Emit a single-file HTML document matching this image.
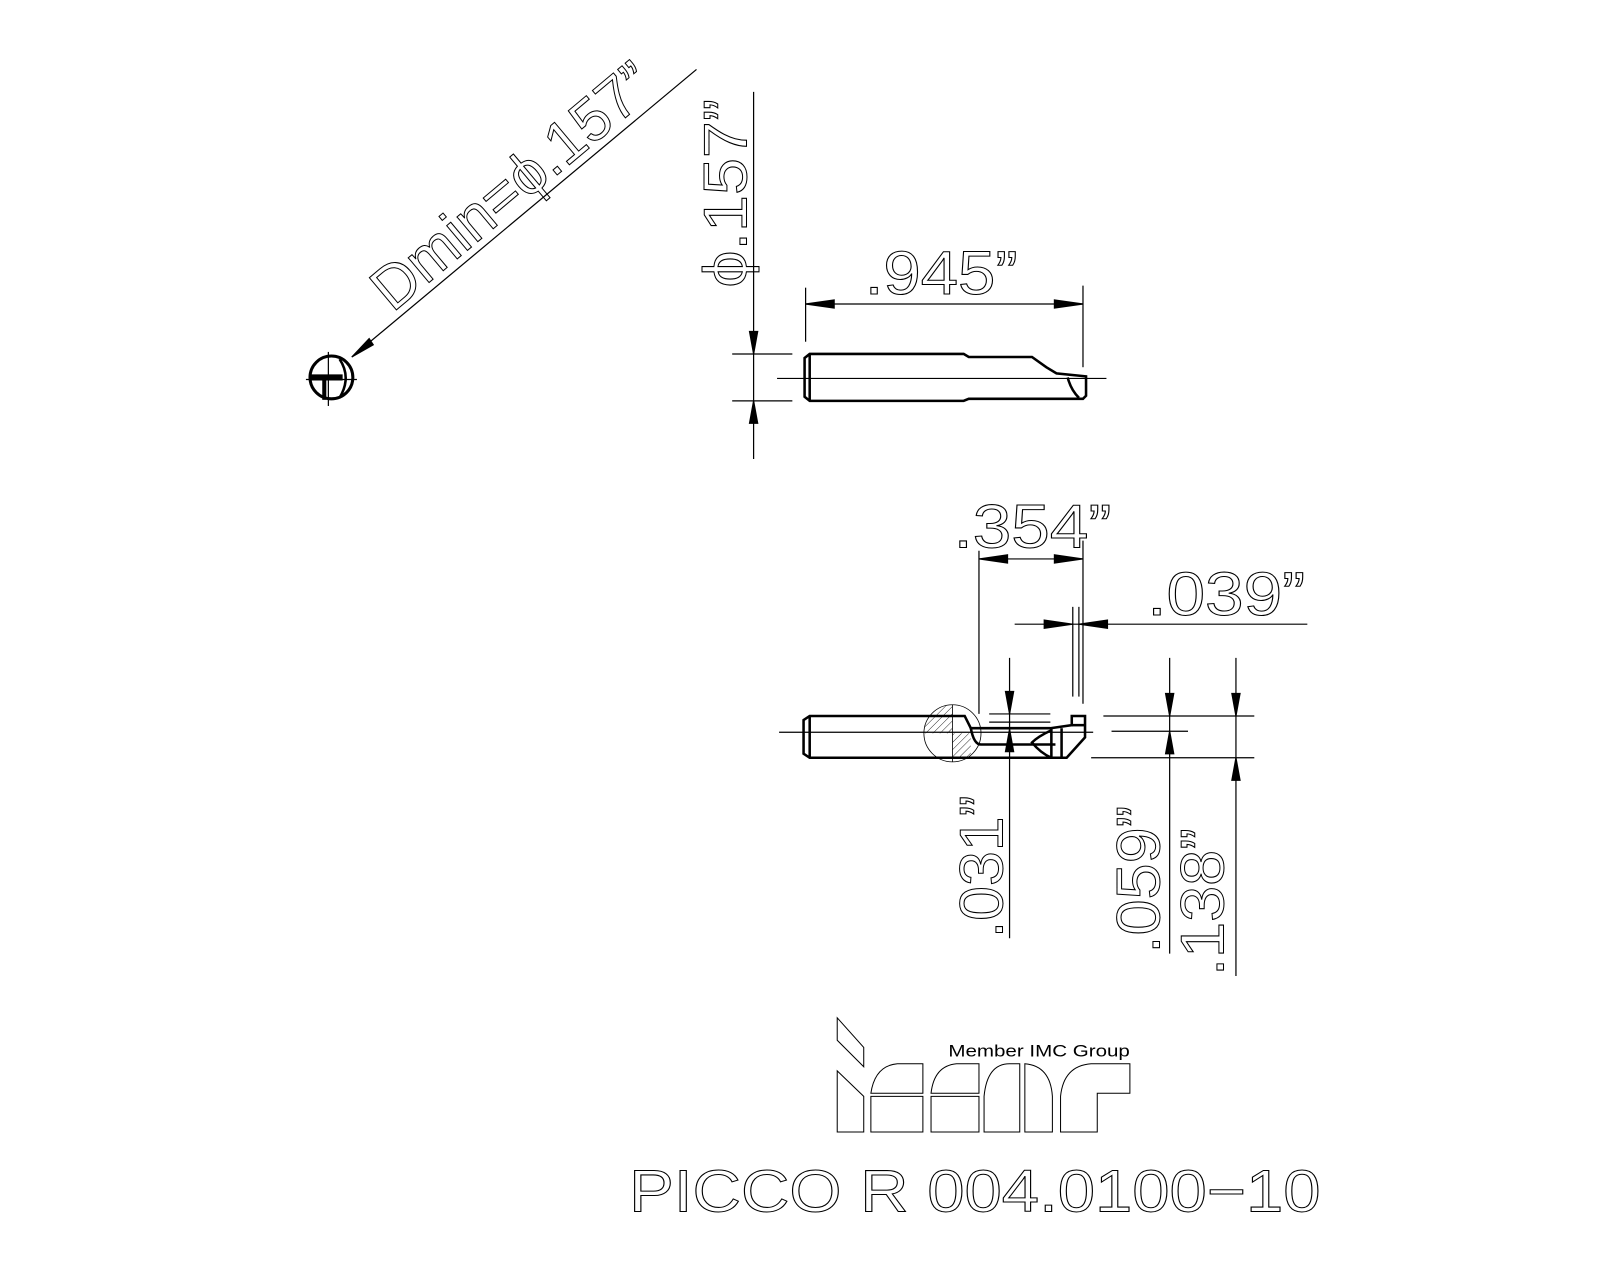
<!DOCTYPE html>
<html><head><meta charset="utf-8"><style>
html,body{margin:0;padding:0;background:#fff;}
svg{display:block;}
text{font-family:"Liberation Sans",sans-serif;fill:none;stroke:#000;stroke-width:1;}
</style></head><body>
<svg width="1600" height="1280" viewBox="0 0 1569 1255" xmlns="http://www.w3.org/2000/svg">
<defs>
<pattern id="h" width="5" height="5" patternUnits="userSpaceOnUse" patternTransform="rotate(45)"><line x1="0" y1="0" x2="0" y2="5" stroke="#000" stroke-width="0.8"/></pattern>
<clipPath id="cq"><circle cx="934" cy="719" r="28"/></clipPath>
</defs>
<g stroke="#000" fill="none" stroke-width="1.2">
<!-- Dmin -->
<line x1="683" y1="68" x2="345" y2="350"/>
<polygon points="345,350 362,332 366,338" fill="#000"/>
<circle cx="325" cy="370" r="21" stroke-width="3"/>
<line x1="300" y1="372" x2="350" y2="372"/>
<line x1="322" y1="345" x2="322" y2="398"/>
<path d="M305,370 H336" stroke-width="6"/>
<path d="M318,372 V392" stroke-width="4"/>
<path d="M333,352 Q345,370 333,390" stroke-width="2.5"/>
</g>
<text transform="translate(385,307) rotate(-40)" font-size="60" textLength="340" lengthAdjust="spacingAndGlyphs">Dmin=ϕ.157”</text>

<g stroke="#000" fill="none" stroke-width="1.2">
<!-- top view dims -->
<line x1="739" y1="90" x2="739" y2="450"/>
<line x1="718" y1="347" x2="777" y2="347"/>
<line x1="718" y1="393" x2="777" y2="393"/>
<polygon points="739,347 735,325 743,325" fill="#000"/>
<polygon points="739,393 735,415 743,415" fill="#000"/>
<line x1="790" y1="282" x2="790" y2="335"/>
<line x1="1062" y1="280" x2="1062" y2="360"/>
<line x1="790" y1="298" x2="1062" y2="298"/>
<polygon points="790,298 818,294 818,302" fill="#000"/>
<polygon points="1062,298 1034,294 1034,302" fill="#000"/>
<line x1="762" y1="371" x2="1085" y2="371"/>
<!-- top tool -->
<g stroke-width="2.5">
<path d="M794,347 H945 L950,350 H1012 L1026,360 L1036,366 L1065,369 V388 L1062,391 H950 L945,393 H794 L789,389 V351 Z"/>
<line x1="794" y1="347" x2="794" y2="393"/>
<path d="M1047,370 Q1050,382 1058,390"/>
</g>
</g>
<text transform="translate(732,282) rotate(-90)" font-size="60" textLength="185" lengthAdjust="spacingAndGlyphs">ϕ.157”</text>
<text x="848" y="288" font-size="60" textLength="150" lengthAdjust="spacingAndGlyphs">.945”</text>

<g stroke="#000" fill="none" stroke-width="1.2">
<!-- bottom dims -->
<line x1="960" y1="540" x2="960" y2="700"/>
<line x1="1062" y1="530" x2="1062" y2="690"/>
<line x1="960" y1="548" x2="1062" y2="548"/>
<polygon points="960,548 988,544 988,552" fill="#000"/>
<polygon points="1062,548 1034,544 1034,552" fill="#000"/>
<line x1="1052" y1="595" x2="1052" y2="683"/>
<line x1="1058" y1="595" x2="1058" y2="683"/>
<line x1="995" y1="612" x2="1282" y2="612"/>
<polygon points="1052,612 1024,608 1024,616" fill="#000"/>
<polygon points="1058,612 1086,608 1086,616" fill="#000"/>
<line x1="990" y1="645" x2="990" y2="920"/>
<polygon points="990,700 986,678 994,678" fill="#000"/>
<polygon points="990,715 986,737 994,737" fill="#000"/>
<line x1="970" y1="700" x2="1030" y2="700"/>
<line x1="970" y1="708" x2="1030" y2="708"/>
<line x1="1147" y1="645" x2="1147" y2="935"/>
<polygon points="1147,702 1143,680 1151,680" fill="#000"/>
<polygon points="1147,717 1143,739 1151,739" fill="#000"/>
<line x1="1212" y1="645" x2="1212" y2="957"/>
<polygon points="1212,702 1208,680 1216,680" fill="#000"/>
<polygon points="1212,743 1208,765 1216,765" fill="#000"/>
<line x1="1082" y1="702" x2="1230" y2="702"/>
<line x1="1090" y1="717" x2="1165" y2="717"/>
<line x1="1070" y1="743" x2="1230" y2="743"/>
<line x1="764" y1="718" x2="1072" y2="718"/>
<!-- bottom tool -->
<g clip-path="url(#cq)">
<rect x="906" y="691" width="28" height="28" fill="url(#h)" stroke="none"/>
<rect x="934" y="719" width="18" height="24" fill="url(#h)" stroke="none"/>
</g>
<circle cx="934" cy="719" r="28" stroke-width="0.8"/>
<line x1="934" y1="691" x2="934" y2="747" stroke-width="0.8"/>
<g stroke-width="2.5">
<path d="M794,702 H946 L952,714 H1030 L1051,711 V702 H1064 V723 L1046,743 H794 L788,739 V706 Z"/>
<path d="M952,714 Q955,730 962,730 H1035"/>
<line x1="794" y1="702" x2="794" y2="743"/>
<line x1="1031" y1="714" x2="1031" y2="743"/>
<line x1="1041" y1="714" x2="1041" y2="743"/>
<path d="M1031,716 Q1018,722 1012,728 Q1020,738 1031,743"/>
<line x1="1051" y1="711" x2="1064" y2="711"/>
</g>
</g>
<text x="935" y="537" font-size="60" textLength="155" lengthAdjust="spacingAndGlyphs">.354”</text>
<text x="1125" y="603" font-size="60" textLength="155" lengthAdjust="spacingAndGlyphs">.039”</text>
<text transform="translate(983,920) rotate(-90)" font-size="60" textLength="140" lengthAdjust="spacingAndGlyphs">.031”</text>
<text transform="translate(1137,935) rotate(-90)" font-size="60" textLength="145" lengthAdjust="spacingAndGlyphs">.059”</text>
<text transform="translate(1200,957) rotate(-90)" font-size="60" textLength="145" lengthAdjust="spacingAndGlyphs">.138”</text>

<!-- logo -->
<g stroke="#000" fill="none" stroke-width="1">
<path d="M821,998 L847,1027 V1046 L821,1020 Z"/>
<path d="M821,1050 L847,1075 V1110 H821 Z"/>
<path d="M854,1110 V1075 H905 V1110 Z"/>
<path d="M854,1072 Q858,1045 880,1043 H905 V1072 Z"/>
<path d="M913,1072 Q916,1045 938,1043 H960 V1072 Z"/>
<path d="M913,1110 V1075 H960 V1110 Z"/>
<path d="M965,1110 V1075 Q968,1043 990,1043 H1000 V1110 Z"/>
<path d="M1005,1043 Q1030,1045 1032,1075 V1110 H1005 Z"/>
<path d="M1040,1110 V1075 Q1043,1045 1070,1043 H1108 V1072 H1076 V1110 Z"/>
</g>
<text x="930" y="1036" font-size="16" style="fill:#000;stroke:none" textLength="178" lengthAdjust="spacingAndGlyphs">Member IMC Group</text>
<text x="617" y="1188" font-size="58" textLength="678" lengthAdjust="spacingAndGlyphs">PICCO R 004.0100−10</text>
</svg>
</body></html>
